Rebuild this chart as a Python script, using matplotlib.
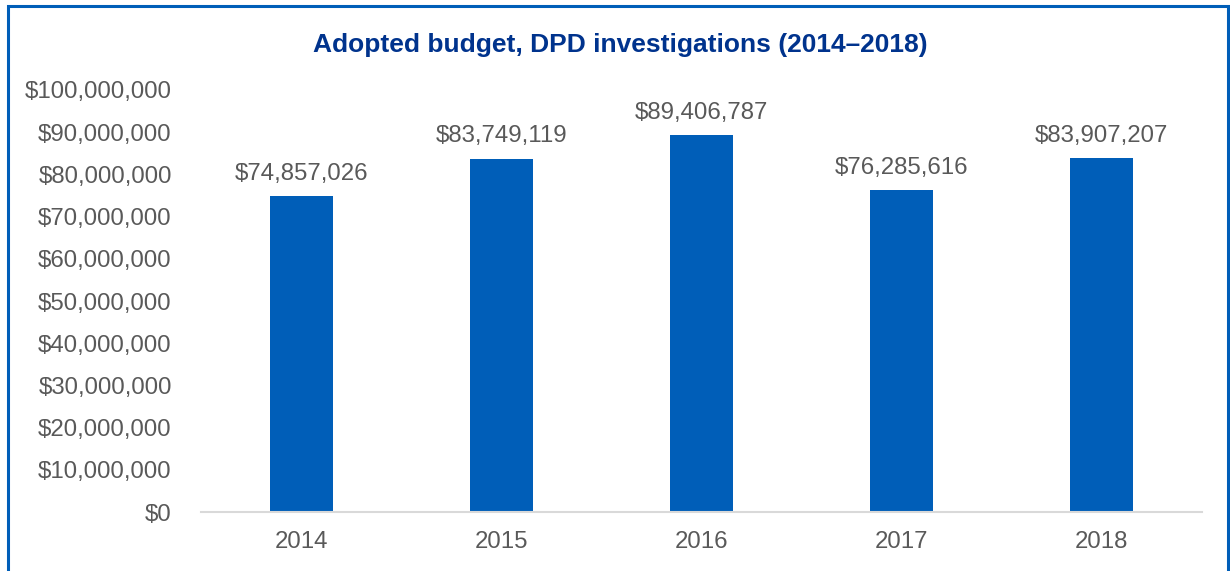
import matplotlib
matplotlib.use("Agg")
import matplotlib.pyplot as plt
from matplotlib.patches import Rectangle
from matplotlib.ticker import FuncFormatter

# Data
years = ["2014", "2015", "2016", "2017", "2018"]
budget = [74857026, 83749119, 89406787, 76285616, 83907207]
y_ticks = [0, 10e6, 20e6, 30e6, 40e6, 50e6, 60e6, 70e6, 80e6, 90e6, 100e6]

BAR_COLOR = "#005EB8"
TITLE_COLOR = "#00338D"
TEXT_COLOR = "#595959"

plt.rcParams["font.family"] = ["Liberation Sans", "DejaVu Sans"]

fig = plt.figure(figsize=(12.3, 5.71), dpi=100)
ax = fig.add_axes([0.1634, 0.1033, 0.8138, 0.7391])

x = range(len(years))
ax.bar(x, budget, width=0.315, color=BAR_COLOR, zorder=2)

for xi, v in zip(x, budget):
    ax.annotate(f"${v:,.0f}", (xi, v), xytext=(0, 8), textcoords="offset points",
                ha="center", va="bottom", fontsize=17.3, color=TEXT_COLOR)

ax.set_xlim(-0.5, len(years) - 0.5)
ax.set_ylim(0, 100e6)
ax.set_yticks(y_ticks)
ax.yaxis.set_major_formatter(FuncFormatter(lambda v, p: f"${v:,.0f}"))
ax.set_xticks(list(x))
ax.set_xticklabels(years)
ax.tick_params(axis="both", length=0, labelsize=17.3, labelcolor=TEXT_COLOR)
ax.tick_params(axis="y", pad=21)
ax.tick_params(axis="x", pad=14)

for side in ["left", "right", "top"]:
    ax.spines[side].set_visible(False)
ax.spines["bottom"].set_color("#D9D9D9")
ax.spines["bottom"].set_linewidth(1.5)

fig.text(0.504, 0.921, "Adopted budget, DPD investigations (2014\u20132018)",
         ha="center", va="center", fontsize=19, fontweight="bold", color=TITLE_COLOR)

# outer frame (bottom edge is cropped in the original)
fig.add_artist(Rectangle((0.0065, -0.05), 0.9915, 1.04, transform=fig.transFigure,
                         fill=False, edgecolor=BAR_COLOR, linewidth=2.2))

fig.savefig("out.png", dpi=100)
